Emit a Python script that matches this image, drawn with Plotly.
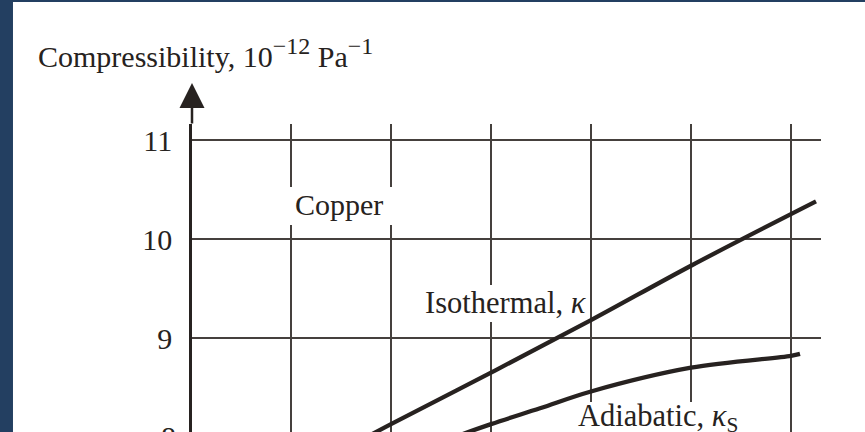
import plotly.graph_objects as go

# Compressibility of copper vs temperature (units of 1e-12 Pa^-1)
temperature_iso = [150, 200, 300, 400, 500, 625]
kappa_isothermal = [7.86, 8.13, 8.65, 9.18, 9.73, 10.38]

temperature_adi = [250, 300, 349, 400, 500, 600, 609]
kappa_adiabatic = [7.95, 8.13, 8.29, 8.46, 8.70, 8.82, 8.84]

y_ticks = [9, 10, 11]
y_tick_text = ["9", "10", "11"]

INK = "#272220"
TEXT = "#262220"
GRID = "#45403d"
FONT = "Liberation Serif"

fig = go.Figure()

fig.add_trace(go.Scatter(
    x=temperature_iso, y=kappa_isothermal, mode="lines",
    line=dict(color=INK, width=4.3, shape="spline"), hoverinfo="skip",
))
fig.add_trace(go.Scatter(
    x=temperature_adi, y=kappa_adiabatic, mode="lines",
    line=dict(color=INK, width=4.3, shape="spline"), hoverinfo="skip",
))

# white patches that interrupt the grid behind the curve labels
masks = [
    (95, 203, 10.141, 10.525),
    (229, 395, 9.162, 9.535),
    (381, 554, 7.90, 8.354),
]
shapes = []
for x0, x1, y0, y1 in masks:
    shapes.append(dict(type="rect", xref="x", yref="y", x0=x0, x1=x1, y0=y0, y1=y1,
                       fillcolor="white", line=dict(width=0), layer="between"))

# dark frame strips along the left and top edges
FRAME = "#233f61"
shapes.append(dict(type="rect", xref="paper", yref="paper", x0=-0.32, x1=-0.2846,
                   y0=-0.1, y1=1.45, fillcolor=FRAME, line=dict(width=0), layer="above"))
shapes.append(dict(type="rect", xref="paper", yref="paper", x0=-0.32, x1=1.2,
                   y0=1.3965, y1=1.45, fillcolor=FRAME, line=dict(width=0), layer="above"))

sup = "<sup><span style='font-size:24px'>{}</span></sup>"
title = "Compressibility, 10" + sup.format("−12") + " Pa" + sup.format("−1")

annotations = [
    dict(text=title, xref="paper", yref="paper",
         x=-0.2480, y=1.2305, xanchor="left", yanchor="middle", showarrow=False,
         font=dict(family=FONT, size=30, color=TEXT)),
    dict(text="Copper", xref="x", yref="y", x=148, y=10.35, xanchor="center", yanchor="middle",
         showarrow=False, font=dict(family=FONT, size=30, color=TEXT)),
    dict(text="Isothermal, <i>κ</i>", xref="x", yref="y", x=232, y=9.35, xanchor="left",
         yanchor="middle", showarrow=False, font=dict(family=FONT, size=30.5, color=TEXT)),
    dict(text="Adiabatic, <i>κ</i><sub>S</sub>", xref="x", yref="y", x=385, y=8.19, xanchor="left",
         yanchor="middle", showarrow=False, font=dict(family=FONT, size=30.5, color=TEXT)),
    dict(text="8", xref="paper", yref="paper", x=-0.0223, y=-0.0162, xanchor="right",
         yanchor="middle", showarrow=False, font=dict(family=FONT, size=30, color=TEXT)),
    # arrow at the top of the vertical axis
    dict(text="", xref="paper", yref="paper", x=0, y=1.1331, ax=0, ay=42,
         showarrow=True, arrowhead=2, arrowwidth=2.5, arrowsize=2, arrowcolor=INK),
]

fig.update_layout(
    width=865, height=432,
    margin=dict(l=192, r=44, t=124, b=0, pad=0),
    paper_bgcolor="white", plot_bgcolor="white",
    showlegend=False,
    shapes=shapes, annotations=annotations,
    xaxis=dict(range=[1, 630], tick0=0, dtick=100, showgrid=True, gridcolor=GRID, gridwidth=1.5,
               showticklabels=False, ticks="", zeroline=False, showline=False),
    yaxis=dict(range=[8.0505, 11.1616], tickvals=y_ticks, ticktext=y_tick_text,
               showgrid=True, gridcolor=GRID, gridwidth=1.5, zeroline=False,
               showline=True, linecolor=INK, linewidth=2.5, ticks="", ticklabelstandoff=11,
               tickfont=dict(family=FONT, size=30, color=TEXT)),
)

fig.write_html("out.html")
